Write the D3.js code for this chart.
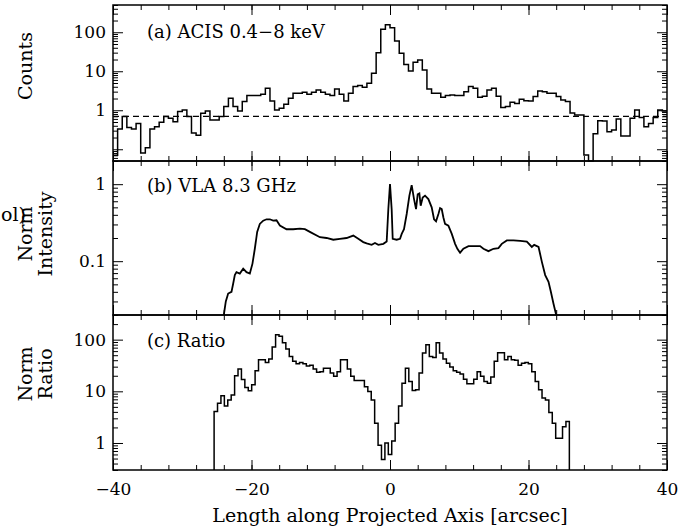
<!DOCTYPE html>
<html>
<head>
<meta charset="utf-8">
<script src="https://cdn.jsdelivr.net/npm/d3@7"></script>
<style>
body { margin: 0; background: #fff; }
svg { font-family: "DejaVu Serif", serif; }
</style>
</head>
<body>
<svg id="chart" width="687" height="531"></svg>
<script>
// (a) ACIS counts, 120 bins from -40 to 40 arcsec
let acisStart = -40, acisEnd = 40;
let acisCounts = [
    0.07, 0.33, 0.69, 0.36, 0.33, 0.46, 0.08, 0.11, 0.33, 0.38,
    0.49, 0.69, 0.62, 0.51, 0.93, 1.02, 0.69, 0.26, 0.23, 0.84,
    0.96, 0.56, 0.56, 0.69, 1.24, 2.03, 1.24, 0.96, 1.67, 2.38,
    2.38, 2.38, 2.57, 3.66, 1.73, 1.02, 1.13, 1.43, 2.03, 2.73,
    2.73, 2.9, 2.57, 2.9, 3.3, 2.9, 2.57, 2.38, 3.5, 2.57,
    1.73, 2.73, 4.06, 4.3, 3.9, 4.9, 8.9, 30, 120, 155,
    130, 60, 29, 15, 10.2, 17, 19.5, 10.8, 3.5, 2.73,
    2.73, 2.15, 2.4, 2.47, 2.38, 2.38, 3.0, 4.06, 3.66, 2.15,
    2.3, 3.3, 3.66, 2.3, 1.17, 1.24, 1.6, 1.5, 1.91, 1.75,
    1.73, 2.24, 3.1, 3.0, 2.73, 2.73, 2.24, 1.84, 1.67, 0.85,
    0.76, 0.76, 0.071, 0.05, 0.25, 0.54, 0.53, 0.28, 0.31, 0.60,
    0.22, 0.22, 0.62, 1.02, 0.65, 0.38, 0.46, 0.65, 1.02, 0.96
];
let acisLevel = 0.7;

// (b) VLA normalised intensity
let vlaX = [
    -24.0, -23.71, -23.37, -22.89, -22.65, -22.41, -22.17, -21.69, -21.2, -20.72,
    -20.24, -19.86, -19.52, -19.18, -18.8, -18.31, -17.83, -17.35, -16.87, -16.39,
    -15.9, -14.94, -13.98, -13.01, -12.29, -11.57, -10.12, -9.16, -8.19, -7.23,
    -6.27, -5.3, -4.58, -3.86, -3.37, -2.65, -2.17, -1.69, -0.96, -0.48,
    -0.24, 0.0, 0.24, 0.39, 0.96, 1.45, 1.69, 2.02, 2.41, 2.8,
    3.13, 3.47, 3.76, 4.0, 4.24, 4.43, 4.72, 5.06, 5.54, 6.02,
    6.36, 6.65, 6.99, 7.23, 7.47, 7.71, 7.95, 8.43, 8.92, 9.4,
    9.73, 10.12, 10.6, 11.33, 12.29, 13.01, 13.49, 14.22, 14.94, 15.66,
    16.14, 16.87, 17.83, 18.8, 19.76, 20.48, 20.82, 21.45, 21.93, 22.41,
    22.89, 23.23, 23.61, 24.0
];
let vlaIntensity = [
    0.02, 0.03, 0.038, 0.04, 0.051, 0.066, 0.072, 0.069, 0.08, 0.072,
    0.069, 0.093, 0.145, 0.24, 0.305, 0.336, 0.35, 0.35, 0.336, 0.34,
    0.29, 0.26, 0.26, 0.265, 0.26, 0.24, 0.205, 0.2, 0.19, 0.195,
    0.2, 0.215, 0.195, 0.177, 0.17, 0.163, 0.172, 0.163, 0.168, 0.18,
    0.475, 1.0, 0.475, 0.195, 0.19, 0.195, 0.226, 0.26, 0.41, 0.71,
    0.97, 0.64, 0.475, 0.74, 0.76, 0.525, 0.67, 0.71, 0.64, 0.5,
    0.35, 0.33, 0.41, 0.49, 0.475, 0.37, 0.305, 0.29, 0.226, 0.168,
    0.145, 0.129, 0.145, 0.157, 0.157, 0.157, 0.145, 0.135, 0.145, 0.148,
    0.168, 0.186, 0.186, 0.183, 0.18, 0.153, 0.163, 0.153, 0.098, 0.066,
    0.054, 0.04, 0.028, 0.02
];

// (c) normalised ratio, bins from -25.4 to 25.9 arcsec
let ratioStart = -25.4, ratioEnd = 25.9;
let ratioValues = [
    4.06, 5.9, 8.2, 5.2, 6.8, 8.5, 20, 27, 17, 11.8,
    10.2, 13.4, 25, 41, 41, 36, 42, 72, 125, 117,
    87, 66, 47, 38, 34, 36, 34, 31, 32, 27,
    23.4, 24, 28, 28, 22.6, 19.5, 24, 41, 41, 27,
    19.5, 16.2, 16.2, 16.2, 12.3, 9.9, 6.8, 2.4, 0.9, 0.48,
    1.0, 0.6, 1.09, 2.4, 5.2, 14.4, 28, 15.5, 10.4, 10.7,
    22.6, 55, 80, 47, 45, 87, 55, 42, 35, 29.5,
    25, 23.4, 21.6, 17.2, 14, 14, 17.2, 24, 19.5, 15.5,
    14.4, 19, 38, 56, 56, 41, 47, 41, 40, 32,
    35, 36, 34, 24, 15.5, 10.7, 7.4, 6.8, 3.9, 2.4,
    1.23, 1.23, 2.07, 2.6
];

let xMajor = [-40, -20, 0, 20, 40];
let xMinor = d3.range(-40, 41, 4);

const left = 113, right = 667;
const svg = d3.select("#chart");

const x = d3.scaleLinear().domain([-40, 40]).range([left, right]);

const panels = [
    {top: 5, bottom: 161, domain: [0.05, 500], labels: [1, 10, 100]},
    {top: 161, bottom: 315, domain: [0.02, 2], labels: [0.1, 1]},
    {top: 315, bottom: 470, domain: [0.3, 300], labels: [1, 10, 100]}
];

panels.forEach(function (p, i) {
    p.y = d3.scaleLog().domain(p.domain).range([p.bottom, p.top]).clamp(true);
    let decades = p.y.ticks().filter(t => Math.abs(Math.log10(t) - Math.round(Math.log10(t))) < 1e-6);
    let minors = p.y.ticks().filter(t => decades.indexOf(t) < 0);

    let g = svg.append("g");

    // y ticks, left and right, pointing inward
    g.append("g").attr("transform", "translate(" + left + ",0)")
        .call(d3.axisLeft(p.y).tickValues(decades).tickSize(-10).tickPadding(7)
            .tickFormat(d => p.labels.indexOf(d) >= 0 ? d : ""));
    g.append("g").attr("transform", "translate(" + left + ",0)")
        .call(d3.axisLeft(p.y).tickValues(minors).tickSize(-5).tickFormat(""));
    g.append("g").attr("transform", "translate(" + right + ",0)")
        .call(d3.axisRight(p.y).tickValues(decades).tickSize(-10).tickFormat(""));
    g.append("g").attr("transform", "translate(" + right + ",0)")
        .call(d3.axisRight(p.y).tickValues(minors).tickSize(-5).tickFormat(""));

    // x ticks on top and bottom
    g.append("g").attr("transform", "translate(0," + p.bottom + ")")
        .call(d3.axisBottom(x).tickValues(xMajor).tickSize(-10).tickPadding(13)
            .tickFormat(i === 2 ? d3.format("d") : ""));
    g.append("g").attr("transform", "translate(0," + p.bottom + ")")
        .call(d3.axisBottom(x).tickValues(xMinor).tickSize(-5).tickFormat(""));
    g.append("g").attr("transform", "translate(0," + p.top + ")")
        .call(d3.axisTop(x).tickValues(xMajor).tickSize(-10).tickFormat(""));
    g.append("g").attr("transform", "translate(0," + p.top + ")")
        .call(d3.axisTop(x).tickValues(xMinor).tickSize(-5).tickFormat(""));

    g.selectAll(".domain").remove();
    g.selectAll(".tick line").attr("stroke", "#000");
    g.selectAll(".tick text").attr("font-size", 17).attr("font-family", "DejaVu Serif").attr("fill", "#000");

    g.append("rect")
        .attr("x", left).attr("y", p.top)
        .attr("width", right - left).attr("height", p.bottom - p.top)
        .attr("fill", "none").attr("stroke", "#000").attr("stroke-width", 1.5);
});

function stepPoints(vals, x0, x1, floor) {
    let w = (x1 - x0) / vals.length;
    let pts = vals.map((v, i) => [x0 + i * w, v]);
    pts.push([x1, vals[vals.length - 1]]);
    if (floor !== undefined) {
        pts.unshift([x0, floor]);
        pts.push([x1, floor]);
    }
    return pts;
}

// panel a
let pa = panels[0];
svg.append("path")
    .datum(stepPoints(acisCounts, acisStart, acisEnd))
    .attr("fill", "none").attr("stroke", "#000").attr("stroke-width", 1.5)
    .attr("d", d3.line().x(d => x(d[0])).y(d => pa.y(d[1])).curve(d3.curveStepAfter));
svg.append("line")
    .attr("x1", x(-40)).attr("x2", x(40))
    .attr("y1", pa.y(acisLevel)).attr("y2", pa.y(acisLevel))
    .attr("stroke", "#000").attr("stroke-width", 1.2).attr("stroke-dasharray", "6,4");

// panel b
let pb = panels[1];
svg.append("path")
    .datum(d3.zip(vlaX, vlaIntensity))
    .attr("fill", "none").attr("stroke", "#000").attr("stroke-width", 1.8)
    .attr("d", d3.line().x(d => x(d[0])).y(d => pb.y(d[1])));

// panel c
let pc = panels[2];
svg.append("path")
    .datum(stepPoints(ratioValues, ratioStart, ratioEnd, 0.3))
    .attr("fill", "none").attr("stroke", "#000").attr("stroke-width", 1.5)
    .attr("d", d3.line().x(d => x(d[0])).y(d => pc.y(d[1])).curve(d3.curveStepAfter));

// panel annotations
let notes = [["(a) ACIS 0.4\u22128 keV", 38], ["(b) VLA 8.3 GHz", 192], ["(c) Ratio", 347]];
notes.forEach(function (n) {
    svg.append("text").attr("x", 147).attr("y", n[1])
        .attr("font-size", 18).text(n[0]);
});

// axis titles
function vlabel(lines, cy) {
    lines.forEach(function (l) {
        svg.append("text")
            .attr("transform", "translate(" + l[1] + "," + cy + ") rotate(-90)")
            .attr("text-anchor", "middle").attr("font-size", 19).text(l[0]);
    });
}
vlabel([["Counts", 32]], 66);
vlabel([["Norm", 32], ["Intensity", 52]], 234);
vlabel([["Norm", 32], ["Ratio", 52]], 374);

// stray clipped text at the left edge
svg.append("text").attr("x", 1).attr("y", 221)
    .attr("font-size", 19).text("ol)");

svg.append("text").attr("x", 390).attr("y", 522)
    .attr("text-anchor", "middle").attr("font-size", 19)
    .text("Length along Projected Axis [arcsec]");
</script>
</body>
</html>
